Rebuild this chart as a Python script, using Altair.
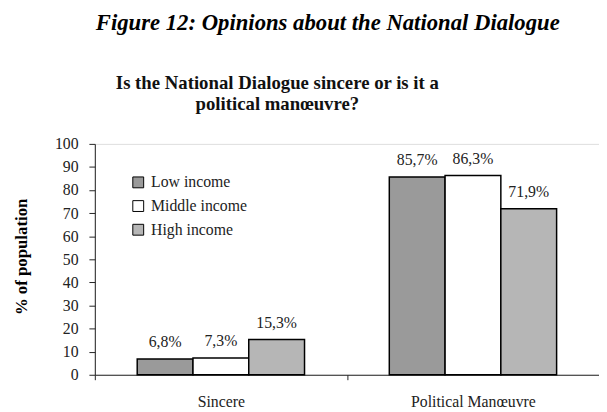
import altair as alt
import pandas as pd

categories = ["Sincere", "Political Manœuvre"]
groups = ["Low income", "Middle income", "High income"]
sincere = [6.8, 7.3, 15.3]
manoeuvre = [85.7, 86.3, 71.9]
group_colors = ["#9a9a9a", "#ffffff", "#b6b6b6"]
y_ticks = list(range(0, 101, 10))
fig_title = "Figure 12: Opinions about the National Dialogue"
subtitle = ["Is the National Dialogue sincere or is it a", "political manœuvre?"]
y_title = "% of population"

rows = []
for cat, vals in zip(categories, [sincere, manoeuvre]):
    for g, v in zip(groups, vals):
        rows.append({"answer": cat, "income": g, "value": v,
                     "label": f"{v:.1f}%".replace(".", ",")})
df = pd.DataFrame(rows)

FONT = "Liberation Serif"
W, H = 511, 234
AX = "#222222"

x = alt.X("answer:N", sort=categories,
          scale=alt.Scale(paddingInner=0, paddingOuter=0),
          axis=alt.Axis(title=None, labelAngle=0, tickBand="extent",
                        labelPadding=14, labelFontSize=16, labelFont=FONT,
                        labelColor="#222222", domainColor=AX, tickColor=AX,
                        tickSize=5, labelBaseline="top"))
xo = alt.XOffset("income:N", sort=groups,
                 scale=alt.Scale(paddingInner=0, paddingOuter=0.76))
y = alt.Y("value:Q", scale=alt.Scale(domain=[0, 100], nice=False),
          axis=alt.Axis(values=y_ticks, title=y_title, titleFont=FONT,
                        titleFontSize=17, titleFontWeight="bold",
                        titleColor="#000000", titleX=-74, titleY=114,
                        titleAngle=270, titleBaseline="middle", titleAlign="center",
                        labelFont=FONT, labelFontSize=16, labelColor="#222222",
                        labelPadding=11, tickSize=6, grid=False,
                        labelOverlap=False, labelBound=False, labelFlush=False,
                        domainColor=AX, tickColor=AX))
color = alt.Color("income:N", sort=groups,
                  scale=alt.Scale(domain=groups, range=group_colors),
                  legend=alt.Legend(title=None, orient="none", legendX=36, legendY=31,
                                    symbolType="square", symbolSize=121,
                                    symbolStrokeColor="#000000", symbolStrokeWidth=1,
                                    labelFont=FONT, labelFontSize=16,
                                    labelColor="#222222", rowPadding=8,
                                    labelOffset=5))

base = alt.Chart(df)
bars = base.mark_bar(stroke="#000000", strokeWidth=1.5).encode(
    x=x, xOffset=xo, y=y, color=color)
labels = base.mark_text(dy=-12, baseline="alphabetic", fontSize=16, font=FONT,
                        color="#222222").encode(
    x=x, xOffset=xo, y=y, text="label:N")

one = pd.DataFrame({"k": [0]})
title_mark = alt.Chart(one).mark_text(
    align="left", baseline="alphabetic", font=FONT, fontSize=23,
    fontStyle="italic", fontWeight="bold", color="#000000").encode(
    x=alt.value(1), y=alt.value(-115), text=alt.value(fig_title))
sub_mark = alt.Chart(one).mark_text(
    align="center", baseline="alphabetic", font=FONT, fontSize=19,
    fontWeight="bold", color="#111111", lineHeight=22).encode(
    x=alt.value(185), y=alt.value(-56), text=alt.value(subtitle))

chart = alt.layer(bars, labels, title_mark, sub_mark).properties(
    width=W, height=H,
    padding={"left": 88, "top": 135, "right": 0, "bottom": 35},
    autosize=alt.AutoSizeParams(type="none"),
).configure_view(strokeWidth=0).configure(background="#ffffff")

chart.save("out.html", embed_options={"renderer": "svg", "actions": False})
